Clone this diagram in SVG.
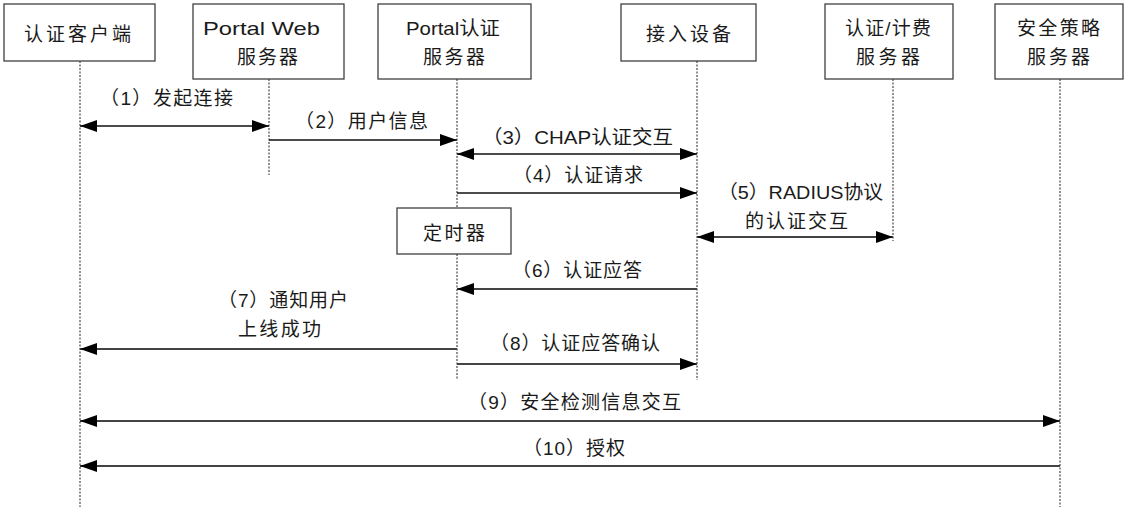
<svg xmlns="http://www.w3.org/2000/svg" width="1128" height="512" viewBox="0 0 1128 512">
<defs>
<style>
.box{fill:#fff;stroke:#404040;stroke-width:1.3}
.life{stroke:#222;stroke-width:1;stroke-dasharray:2 1.5;fill:none}
.t{font-family:"Liberation Sans","Noto Sans CJK SC",sans-serif;font-size:19px;fill:#1a1a1a}
.m1{stroke:#111;stroke-width:1.3;fill:none}
.m2{stroke:#444;stroke-width:1.8;fill:none}
</style>
<marker id="ah" viewBox="0 0 17 12" refX="17" refY="6" markerWidth="17" markerHeight="12" markerUnits="userSpaceOnUse" orient="auto-start-reverse">
<path d="M0,0 L17,6 L0,12 z" fill="#000"/>
</marker>
</defs>
<rect width="1128" height="512" fill="#fff"/>
<g id="lifelines">
<line class="life" x1="80" y1="61" x2="80" y2="507"/>
<line class="life" x1="269" y1="79" x2="269" y2="175"/>
<line class="life" x1="457" y1="79" x2="457" y2="380"/>
<line class="life" x1="697" y1="61" x2="697" y2="380"/>
<line class="life" x1="893" y1="79" x2="893" y2="241"/>
<line class="life" x1="1060" y1="79" x2="1060" y2="507"/>
</g>
<g id="node-client">
<rect class="box" x="4" y="4" width="151" height="57"/>
<text class="t" x="24" y="41" textLength="107">认证客户端</text>
</g>
<g id="node-portal-web">
<rect class="box" x="193" y="4" width="151" height="75"/>
<text class="t" x="203" y="35" textLength="117" lengthAdjust="spacingAndGlyphs">Portal Web</text>
<text class="t" x="237" y="64" textLength="61">服务器</text>
</g>
<g id="node-portal-auth">
<rect class="box" x="378" y="4" width="153" height="75"/>
<text class="t" x="406" y="35" textLength="94" lengthAdjust="spacingAndGlyphs">Portal认证</text>
<text class="t" x="423" y="64" textLength="62">服务器</text>
</g>
<g id="node-access">
<rect class="box" x="621" y="4" width="135" height="57"/>
<text class="t" x="646" y="41" textLength="85">接入设备</text>
</g>
<g id="node-aaa">
<rect class="box" x="825" y="4" width="128" height="75"/>
<text class="t" x="845" y="35" textLength="86">认证/计费</text>
<text class="t" x="856" y="64" textLength="64">服务器</text>
</g>
<g id="node-security">
<rect class="box" x="995" y="4" width="128" height="75"/>
<text class="t" x="1017" y="35" textLength="83">安全策略</text>
<text class="t" x="1027" y="64" textLength="63">服务器</text>
</g>
<g id="node-timer">
<rect class="box" x="397" y="208" width="114" height="46"/>
<text class="t" x="423" y="240" textLength="62">定时器</text>
</g>
<g id="connectors">
<line class="m1" x1="80" y1="126" x2="269" y2="126" marker-start="url(#ah)" marker-end="url(#ah)"/>
<line class="m1" x1="269" y1="140" x2="457" y2="140" marker-end="url(#ah)"/>
<line class="m1" x1="457" y1="154" x2="697" y2="154" marker-start="url(#ah)" marker-end="url(#ah)"/>
<line class="m1" x1="457" y1="193" x2="697" y2="193" marker-end="url(#ah)"/>
<line class="m2" x1="697" y1="237" x2="893" y2="237" marker-start="url(#ah)" marker-end="url(#ah)"/>
<line class="m2" x1="697" y1="289" x2="457" y2="289" marker-end="url(#ah)"/>
<line class="m2" x1="457" y1="349" x2="80" y2="349" marker-end="url(#ah)"/>
<line class="m2" x1="457" y1="364" x2="697" y2="364" marker-end="url(#ah)"/>
<line class="m2" x1="80" y1="421" x2="1060" y2="421" marker-start="url(#ah)" marker-end="url(#ah)"/>
<line class="m2" x1="1060" y1="466" x2="80" y2="466" marker-end="url(#ah)"/>
</g>
<g id="labels">
<text class="t" x="100" y="105" textLength="133">（1）发起连接</text>
<text class="t" x="295" y="128" textLength="133">（2）用户信息</text>
<text class="t" x="482" y="144" textLength="191" lengthAdjust="spacingAndGlyphs">（3）CHAP认证交互</text>
<text class="t" x="513" y="182" textLength="130">（4）认证请求</text>
<text class="t" x="718" y="199" textLength="165" lengthAdjust="spacingAndGlyphs">（5）RADIUS协议</text>
<text class="t" x="745" y="228" textLength="103">的认证交互</text>
<text class="t" x="512" y="277" textLength="130">（6）认证应答</text>
<text class="t" x="218" y="307" textLength="130">（7）通知用户</text>
<text class="t" x="238" y="336" textLength="83">上线成功</text>
<text class="t" x="490" y="350" textLength="170">（8）认证应答确认</text>
<text class="t" x="468" y="409" textLength="213">（9）安全检测信息交互</text>
<text class="t" x="523" y="455" textLength="102">（10）授权</text>
</g>
</svg>
